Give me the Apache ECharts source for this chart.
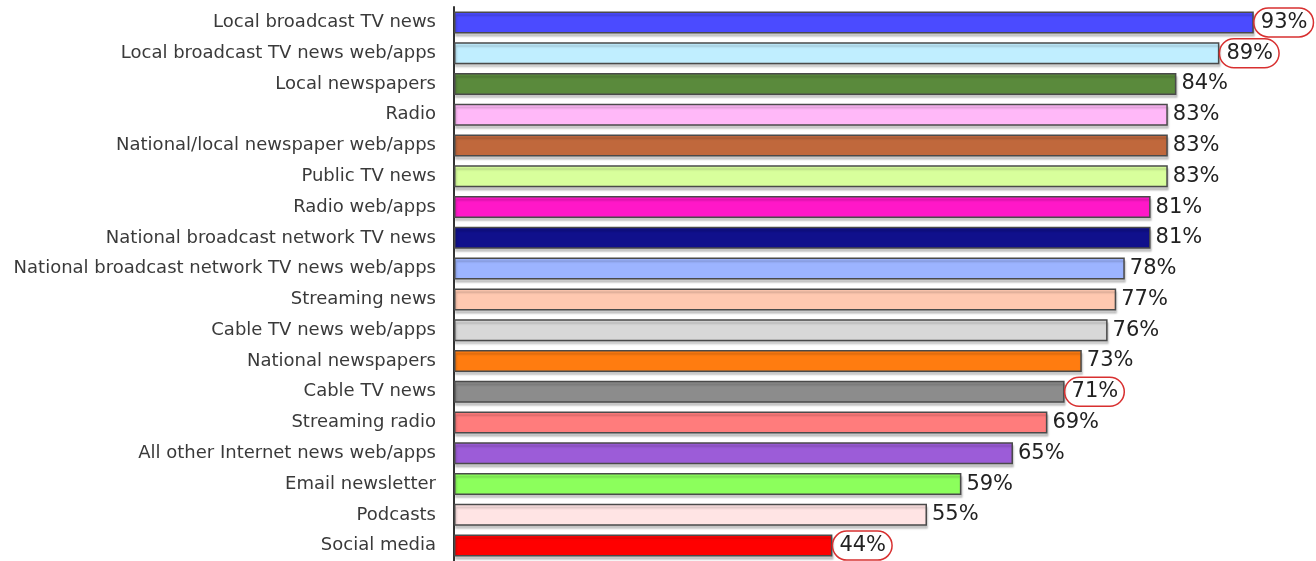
<!DOCTYPE html>
<html>
<head>
<meta charset="utf-8">
<script src="https://cdn.jsdelivr.net/npm/echarts@6/dist/echarts.min.js"></script>
<style>
  html, body { margin: 0; padding: 0; background: #fff; }
  #main { width: 1316px; height: 561px; }
</style>
</head>
<body>
<div id="main"></div>
<script>
// categories, top to bottom
var categories = [
  'Local broadcast TV news',
  'Local broadcast TV news web/apps',
  'Local newspapers',
  'Radio',
  'National/local newspaper web/apps',
  'Public TV news',
  'Radio web/apps',
  'National broadcast network TV news',
  'National broadcast network TV news web/apps',
  'Streaming news',
  'Cable TV news web/apps',
  'National newspapers',
  'Cable TV news',
  'Streaming radio',
  'All other Internet news web/apps',
  'Email newsletter',
  'Podcasts',
  'Social media'
];
var values = [93, 89, 84, 83, 83, 83, 81, 81, 78, 77, 76, 73, 71, 69, 65, 59, 55, 44];
var colors = [
  '#4b4bff', '#c0eeff', '#5a8a3c', '#ffb8f8', '#c0683c', '#d8ff9c',
  '#ff18c8', '#10108c', '#9cb4ff', '#ffc8b0', '#d8d8d8', '#ff7c10',
  '#8c8c8c', '#ff7c7c', '#9c5cd8', '#8cff5c', '#ffe4e4', '#ff0000'
];
// labels circled in red
var circled = [true, true, false, false, false, false, false, false, false,
  false, false, false, true, false, false, false, false, true];

var myChart = echarts.init(document.getElementById('main'));

var data = values.map(function (v, i) {
  var item = {
    value: v,
    itemStyle: { color: colors[i] }
  };
  if (circled[i]) {
    item.label = {
      borderColor: '#d83030',
      borderWidth: 1.5,
      borderRadius: 20,
      padding: [5, 6, 3, 7],
      distance: 0
    };
  }
  return item;
});

var option = {
  animation: false,
  grid: {
    left: 454,
    top: 7,
    width: 860,
    height: 557
  },
  xAxis: {
    type: 'value',
    min: 0,
    max: 100,
    show: false
  },
  yAxis: {
    type: 'category',
    inverse: true,
    data: categories,
    axisLine: { show: true, lineStyle: { color: '#333', width: 2 } },
    axisTick: { show: false },
    axisLabel: {
      margin: 18,
      color: '#3a3a3a',
      fontFamily: 'DejaVu Sans',
      fontSize: 18
    }
  },
  series: [{
    type: 'bar',
    data: data,
    barWidth: 22,
    itemStyle: {
      borderColor: '#4a4a4a',
      borderWidth: 1.5,
      shadowColor: 'rgba(0,0,0,0.2)',
      shadowBlur: 2,
      shadowOffsetX: 1,
      shadowOffsetY: 3
    },
    label: {
      show: true,
      position: 'right',
      distance: 5,
      formatter: '{c}%',
      color: '#222',
      fontFamily: 'DejaVu Sans',
      fontSize: 21
    }
  }]
};

myChart.setOption(option);
</script>
</body>
</html>
